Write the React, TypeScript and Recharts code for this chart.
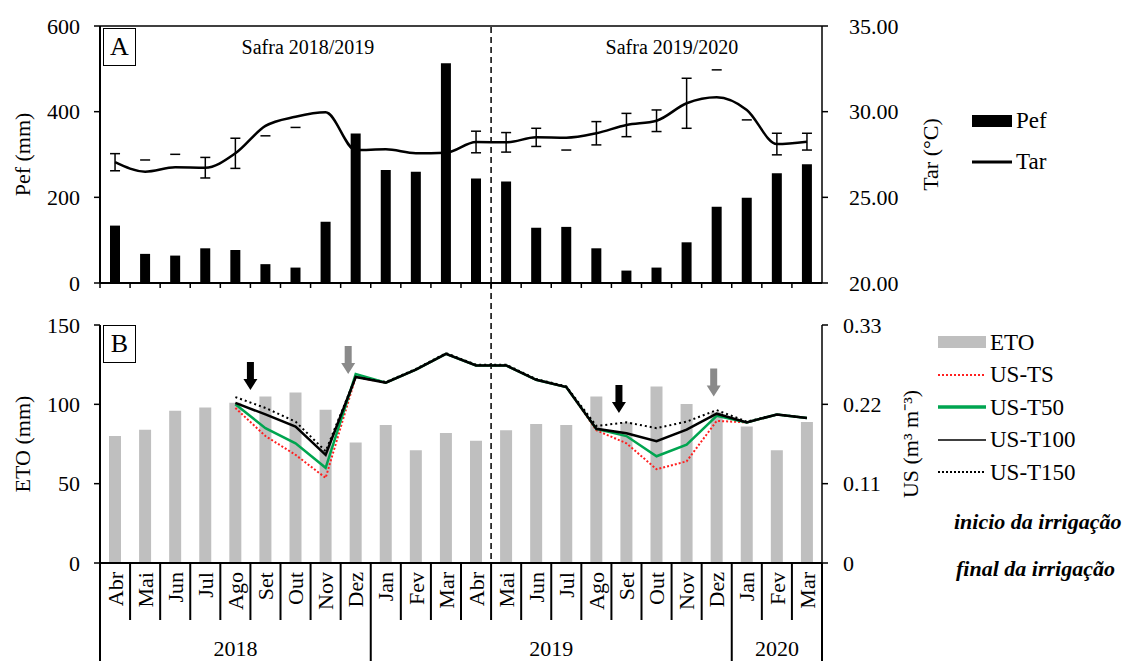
import React from 'react';
import {
  ComposedChart,
  Bar,
  Line,
  Scatter,
  XAxis,
  YAxis,
  ReferenceLine,
  ErrorBar,
  Legend,
} from 'recharts';

const FONT = "'Liberation Serif', 'Times New Roman', serif";

// months on the x axis, Abr 2018 .. Mar 2020
const months = [
  'Abr', 'Mai', 'Jun', 'Jul', 'Ago', 'Set', 'Out', 'Nov', 'Dez',
  'Jan', 'Fev', 'Mar', 'Abr', 'Mai', 'Jun', 'Jul', 'Ago', 'Set', 'Out', 'Nov', 'Dez',
  'Jan', 'Fev', 'Mar',
];
const monthYear = [
  2018, 2018, 2018, 2018, 2018, 2018, 2018, 2018, 2018,
  2019, 2019, 2019, 2019, 2019, 2019, 2019, 2019, 2019, 2019, 2019, 2019,
  2020, 2020, 2020,
];
const yearGroups = [
  { label: '2018', first: 0, count: 9 },
  { label: '2019', first: 9, count: 12 },
  { label: '2020', first: 21, count: 3 },
];

// panel A
const pef = [134, 68, 64, 81, 77, 44, 36, 143, 349, 264, 260, 513, 244, 237, 129, 131, 81, 29, 36, 95, 178, 199, 256, 277];
const tar = [27.05, 26.5, 26.75, 26.73, 27.57, 29.17, 29.7, 29.96, 27.76, 27.8, 27.57, 27.6, 28.23, 28.21, 28.5, 28.48, 28.74, 29.22, 29.47, 30.49, 30.84, 30.1, 28.11, 28.25];
const tarErr = [0.5, null, null, 0.6, 0.88, null, null, null, null, null, null, null, 0.63, 0.57, 0.53, null, 0.68, 0.68, 0.63, 1.46, null, null, 0.63, 0.49];
// months where only one cap of the error bar shows (offset from the mean)
const tarCap = [null, 0.68, 0.76, null, null, -0.58, -0.62, null, null, null, null, null, null, null, null, -0.72, null, null, null, null, 1.6, -0.58, null, null];
const pefTicks = [0, 200, 400, 600];
const tarTicks = [20, 25, 30, 35];

// panel B
const eto = [80, 84, 96, 98, 101, 105, 107.5, 96.6, 76, 87, 71, 82, 77, 83.6, 87.6, 87, 105, 88.6, 111.3, 100.2, 95, 86, 71, 88.8];
const usTS = [null, null, null, null, 0.215, 0.176, 0.15, 0.118, 0.258, 0.25, 0.268, 0.29, 0.274, 0.274, 0.254, 0.244, 0.184, 0.166, 0.13, 0.141, 0.197, 0.195, 0.206, 0.201];
const usT50 = [null, null, null, null, 0.22, 0.187, 0.166, 0.132, 0.262, 0.25, 0.268, 0.29, 0.274, 0.274, 0.254, 0.244, 0.186, 0.176, 0.148, 0.164, 0.204, 0.195, 0.206, 0.201];
const usT100 = [null, null, null, null, 0.222, 0.206, 0.189, 0.15, 0.258, 0.25, 0.268, 0.29, 0.274, 0.274, 0.254, 0.244, 0.186, 0.18, 0.169, 0.185, 0.207, 0.195, 0.206, 0.201];
const usT150 = [null, null, null, null, 0.23, 0.215, 0.196, 0.155, 0.258, 0.251, 0.269, 0.291, 0.275, 0.275, 0.255, 0.245, 0.19, 0.195, 0.187, 0.196, 0.212, 0.196, 0.206, 0.201];
const etoTicks = [0, 50, 100, 150];
const usTicks = [0, 0.11, 0.22, 0.33];

// irrigation arrows: position in months from Abr 2018, US value at the tip
const arrowPos = [5.0, 8.25, 17.25, 20.4];
const arrowTip = [0.24, 0.262, 0.208, 0.231];
const arrowKind = ['inicio', 'final', 'inicio', 'final'];

const rows = months.map((m, i) => ({
  key: `${m}/${monthYear[i]}`,
  pef: pef[i],
  tar: tar[i],
  tarErr: tarErr[i],
  tarCapY: tarCap[i] == null ? null : tar[i] + (tarCap[i] as number),
  eto: eto[i],
  ts: usTS[i],
  t50: usT50[i],
  t100: usT100[i],
  t150: usT150[i],
}));

const arrows = arrowPos.map((p, i) => ({ pos: p, tip: arrowTip[i], kind: arrowKind[i] }));

const PLOT_W = 722;
const BAND = PLOT_W / months.length;
const B_TOP = 42;

const axisLine = { stroke: '#000', strokeWidth: 2 };
const tickLine = { stroke: '#000', strokeWidth: 1.5 };
const tickText = { fill: '#000', fontSize: 22, fontFamily: FONT };
const titleStyle = { textAnchor: 'middle', fontSize: 22, fill: '#000', fontFamily: FONT };

function TopTick(props: any) {
  const { x, y } = props;
  const left = x - BAND / 2;
  return <line x1={left} x2={left} y1={y} y2={y + 5} stroke="#000" strokeWidth={1.5} />;
}

function MonthTick(props: any) {
  const { x, y, index } = props;
  const left = x - BAND / 2;
  const group = yearGroups.find((g) => g.first === index);
  const last = index === months.length - 1;
  return (
    <g>
      {index > 0 && !group && (
        <line x1={left} x2={left} y1={y} y2={y + 57} stroke="#000" strokeWidth={2} />
      )}
      <text
        x={x}
        y={y + 9}
        dy="0.35em"
        transform={`rotate(-90 ${x} ${y + 9})`}
        textAnchor="end"
        fontSize={22}
        fontFamily={FONT}
        fill="#000"
      >
        {months[index]}
      </text>
      {group && (
        <g>
          <line x1={left} x2={left} y1={y} y2={y + 98} stroke="#000" strokeWidth={2} />
          <text
            x={left + (group.count * BAND) / 2}
            y={y + 85}
            dy="0.35em"
            textAnchor="middle"
            fontSize={22}
            fontFamily={FONT}
            fill="#000"
          >
            {group.label}
          </text>
        </g>
      )}
      {last && (
        <line x1={x + BAND / 2} x2={x + BAND / 2} y1={y} y2={y + 98} stroke="#000" strokeWidth={2} />
      )}
    </g>
  );
}

function CapDash(props: any) {
  const { cx, cy, value, index } = props;
  if (value == null || cy == null) return <g key={index} />;
  return <line key={index} x1={cx - 5} x2={cx + 5} y1={cy} y2={cy} stroke="#000" strokeWidth={1.5} />;
}

function ArrowShape(props: any) {
  const { cx, cy, payload } = props;
  const start = payload.kind === 'inicio';
  const color = start ? '#000' : '#8a8a8a';
  const len = 28;
  const shaft = 3.5;
  const head = 7;
  const headH = 11;
  const pts = [
    [cx, cy],
    [cx - head, cy - headH],
    [cx - shaft, cy - headH],
    [cx - shaft, cy - len],
    [cx + shaft, cy - len],
    [cx + shaft, cy - headH],
    [cx + head, cy - headH],
  ]
    .map((p) => p.join(','))
    .join(' ');
  return <polygon points={pts} fill={color} />;
}

function SplitLine(p: any) {
  const top = Math.min(p.y1, p.y2) - B_TOP;
  const bottom = Math.max(p.y1, p.y2);
  return (
    <line x1={p.x1} x2={p.x2} y1={top} y2={bottom} stroke="#000" strokeWidth={1.5} strokeDasharray="6 4" />
  );
}

const legendA = [
  { name: 'Pef', kind: 'bar', color: '#000' },
  { name: 'Tar', kind: 'line', color: '#000', width: 3 },
];
const legendB = [
  { name: 'ETO', kind: 'bar', color: '#bfbfbf' },
  { name: 'US-TS', kind: 'line', color: '#ff2020', width: 2, dash: '2 2' },
  { name: 'US-T50', kind: 'line', color: '#00a550', width: 3.5 },
  { name: 'US-T100', kind: 'line', color: '#000', width: 1.5 },
  { name: 'US-T150', kind: 'line', color: '#000', width: 2, dash: '2 2' },
];

function LegendBox({ items, rowH, swatchW }: any) {
  return (
    <div style={{ fontFamily: FONT, fontSize: 23, color: '#000' }}>
      {items.map((it: any) => (
        <div key={it.name} style={{ display: 'flex', alignItems: 'center', height: rowH }}>
          <svg width={swatchW} height={14} style={{ display: 'block' }}>
            {it.kind === 'bar' ? (
              <rect x={0} y={1} width={swatchW} height={12} fill={it.color} />
            ) : (
              <line
                x1={0}
                x2={swatchW}
                y1={7}
                y2={7}
                stroke={it.color}
                strokeWidth={it.width}
                strokeDasharray={it.dash}
              />
            )}
          </svg>
          <span style={{ marginLeft: 4, lineHeight: 1 }}>{it.name}</span>
        </div>
      ))}
    </div>
  );
}

function PanelA() {
  return (
    <ComposedChart width={1122} height={300} data={rows} margin={{ top: 26, right: 170, bottom: 0, left: 0 }}>
      <XAxis
        xAxisId="cat"
        dataKey="key"
        height={17}
        interval={0}
        tickSize={0}
        tickMargin={0}
        tickLine={false}
        axisLine={axisLine}
        tick={<TopTick />}
      />
      <YAxis
        yAxisId="pef"
        width={100}
        domain={[0, 600]}
        ticks={pefTicks}
        interval={0}
        tickSize={6}
        tickMargin={14}
        axisLine={axisLine}
        tickLine={tickLine}
        tick={tickText}
        label={{ value: 'Pef (mm)', angle: -90, position: 'insideLeft', offset: 22, style: titleStyle }}
      />
      <YAxis
        yAxisId="tar"
        orientation="right"
        width={130}
        domain={[20, 35]}
        ticks={tarTicks}
        interval={0}
        tickFormatter={(v: number) => v.toFixed(2)}
        tickSize={6}
        tickMargin={21}
        axisLine={{ stroke: '#000', strokeWidth: 1.5 }}
        tickLine={tickLine}
        tick={tickText}
        label={{ value: 'Tar (°C)', angle: -90, position: 'insideLeft', offset: 108, style: titleStyle }}
      />
      <ReferenceLine yAxisId="pef" xAxisId="cat" y={600} stroke="#000" strokeWidth={1.5} />
      <ReferenceLine
        yAxisId="pef"
        xAxisId="cat"
        x="Abr/2019"
        position="end"
        stroke="#000"
        strokeWidth={1.5}
        strokeDasharray="6 4"
      />
      <Bar xAxisId="cat" yAxisId="pef" dataKey="pef" fill="#000" barSize={10} isAnimationActive={false} />
      <Line
        xAxisId="cat"
        yAxisId="tar"
        dataKey="tar"
        type="monotone"
        stroke="#000"
        strokeWidth={2.5}
        dot={false}
        activeDot={false}
        isAnimationActive={false}
      >
        <ErrorBar dataKey="tarErr" width={5} stroke="#000" strokeWidth={1.5} direction="y" />
      </Line>
      <Line
        xAxisId="cat"
        yAxisId="tar"
        dataKey="tarCapY"
        stroke="none"
        dot={CapDash}
        activeDot={false}
        legendType="none"
        isAnimationActive={false}
      />
      <Legend
        layout="vertical"
        align="center"
        verticalAlign="middle"
        wrapperStyle={{ left: 972, top: 100, width: 140 }}
        content={() => <LegendBox items={legendA} rowH={41} swatchW={40} />}
      />
    </ComposedChart>
  );
}

function PanelB() {
  return (
    <ComposedChart width={1122} height={378} data={rows} margin={{ top: B_TOP, right: 170, bottom: 0, left: 0 }}>
      <XAxis
        xAxisId="cat"
        dataKey="key"
        height={98}
        interval={0}
        tickSize={0}
        tickMargin={0}
        tickLine={false}
        axisLine={axisLine}
        tick={<MonthTick />}
      />
      <XAxis xAxisId="pos" type="number" dataKey="pos" domain={[0, 24]} allowDataOverflow hide />
      <YAxis
        yAxisId="eto"
        width={100}
        domain={[0, 150]}
        ticks={etoTicks}
        interval={0}
        tickSize={6}
        tickMargin={14}
        axisLine={axisLine}
        tickLine={tickLine}
        tick={tickText}
        label={{ value: 'ETO (mm)', angle: -90, position: 'insideLeft', offset: 22, style: titleStyle }}
      />
      <YAxis
        yAxisId="us"
        orientation="right"
        width={130}
        domain={[0, 0.33]}
        ticks={usTicks}
        interval={0}
        tickFormatter={(v: number) => (v === 0 ? '0' : v.toFixed(2))}
        tickSize={6}
        tickMargin={15}
        axisLine={{ stroke: '#000', strokeWidth: 1.5 }}
        tickLine={tickLine}
        tick={tickText}
        label={{ value: 'US (m³ m⁻³)', angle: -90, position: 'insideLeft', offset: 88, style: titleStyle }}
      />
      <ReferenceLine yAxisId="eto" xAxisId="cat" x="Abr/2019" position="end" shape={SplitLine} />
      <Bar xAxisId="cat" yAxisId="eto" dataKey="eto" fill="#bfbfbf" barSize={12} isAnimationActive={false} />
      <Line
        xAxisId="cat"
        yAxisId="us"
        dataKey="ts"
        stroke="#ff2020"
        strokeWidth={2}
        strokeDasharray="2 2"
        dot={false}
        activeDot={false}
        isAnimationActive={false}
      />
      <Line
        xAxisId="cat"
        yAxisId="us"
        dataKey="t50"
        stroke="#00a550"
        strokeWidth={2.5}
        dot={false}
        activeDot={false}
        isAnimationActive={false}
      />
      <Line
        xAxisId="cat"
        yAxisId="us"
        dataKey="t150"
        stroke="#000"
        strokeWidth={2}
        strokeDasharray="2 3"
        dot={false}
        activeDot={false}
        isAnimationActive={false}
      />
      <Line
        xAxisId="cat"
        yAxisId="us"
        dataKey="t100"
        stroke="#000"
        strokeWidth={2.5}
        dot={false}
        activeDot={false}
        isAnimationActive={false}
      />
      <Scatter
        xAxisId="pos"
        yAxisId="us"
        data={arrows}
        dataKey="tip"
        shape={ArrowShape}
        legendType="none"
        isAnimationActive={false}
      />
      <Legend
        layout="vertical"
        align="center"
        verticalAlign="middle"
        wrapperStyle={{ left: 938, top: 43, width: 160 }}
        content={() => <LegendBox items={legendB} rowH={32.5} swatchW={48} />}
      />
    </ComposedChart>
  );
}

const boxLabel = {
  position: 'absolute' as const,
  width: 31,
  height: 36,
  border: '1.5px solid #000',
  fontSize: 26,
  lineHeight: '36px',
  textAlign: 'center' as const,
  background: '#fff',
};

const note = {
  position: 'absolute' as const,
  fontSize: 22,
  fontStyle: 'italic',
  fontWeight: 'bold' as const,
  lineHeight: 1,
  whiteSpace: 'nowrap' as const,
};

export default function App() {
  return (
    <div
      style={{
        position: 'absolute',
        left: 0,
        top: 0,
        width: 1122,
        height: 661,
        background: '#fff',
        fontFamily: FONT,
        color: '#000',
        overflow: 'hidden',
      }}
    >
      <div style={{ position: 'absolute', left: 0, top: 0 }}>
        <PanelA />
      </div>
      <div style={{ position: 'absolute', left: 0, top: 283 }}>
        <PanelB />
      </div>
      <div style={{ ...boxLabel, left: 103, top: 28 }}>A</div>
      <div style={{ ...boxLabel, left: 103, top: 325 }}>B</div>
      <div style={{ position: 'absolute', left: 228, top: 36, width: 160, textAlign: 'center', fontSize: 20 }}>
        Safra 2018/2019
      </div>
      <div style={{ position: 'absolute', left: 592, top: 36, width: 160, textAlign: 'center', fontSize: 20 }}>
        Safra 2019/2020
      </div>
      <div style={{ ...note, left: 954, top: 511 }}>inicio da irrigação</div>
      <div style={{ ...note, left: 956, top: 558 }}>final da irrigação</div>
    </div>
  );
}
